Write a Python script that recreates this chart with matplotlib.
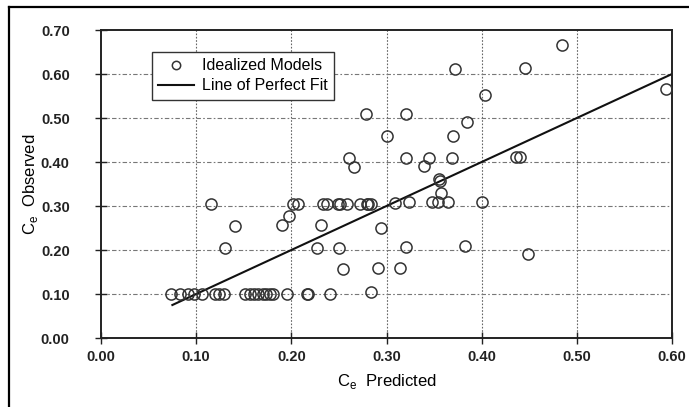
import matplotlib
matplotlib.use("Agg")
import matplotlib.pyplot as plt
from matplotlib.lines import Line2D

plt.rcParams['font.family'] = ['Liberation Sans', 'DejaVu Sans']

# Idealized models: predicted vs observed Ce
pred = [0.074, 0.083, 0.091, 0.098, 0.106, 0.120, 0.124, 0.129, 0.151, 0.157,
        0.161, 0.165, 0.170, 0.173, 0.178, 0.181, 0.195, 0.216, 0.218, 0.241, 0.284,
        0.130, 0.227, 0.250, 0.320, 0.382, 0.449,
        0.254, 0.291, 0.314,
        0.141, 0.190, 0.231, 0.294,
        0.198,
        0.116, 0.202, 0.207, 0.233, 0.237, 0.249, 0.251, 0.258, 0.272, 0.279,
        0.281, 0.284, 0.309, 0.324, 0.348, 0.354, 0.365, 0.400,
        0.355, 0.356, 0.357,
        0.261, 0.266, 0.320, 0.339, 0.345, 0.369, 0.436, 0.440,
        0.278, 0.321, 0.300, 0.370, 0.385, 0.404, 0.372, 0.446, 0.484, 0.594]
obs = [0.10, 0.10, 0.10, 0.10, 0.10, 0.10, 0.10, 0.10, 0.10, 0.10,
       0.10, 0.10, 0.10, 0.10, 0.10, 0.10, 0.10, 0.10, 0.10, 0.10, 0.105,
       0.205, 0.205, 0.205, 0.207, 0.21, 0.192,
       0.156, 0.158, 0.158,
       0.254, 0.257, 0.257, 0.249,
       0.277,
       0.305, 0.305, 0.305, 0.305, 0.305, 0.305, 0.305, 0.305, 0.305, 0.305,
       0.305, 0.305, 0.307, 0.308, 0.308, 0.308, 0.308, 0.308,
       0.362, 0.356, 0.330,
       0.410, 0.388, 0.410, 0.391, 0.410, 0.410, 0.412, 0.412,
       0.510, 0.510, 0.458, 0.460, 0.490, 0.553, 0.612, 0.613, 0.666, 0.566]

fit_x = [0.075, 0.60]
fit_y = [0.075, 0.60]

xticks = [0.0, 0.1, 0.2, 0.3, 0.4, 0.5, 0.6]
yticks = [0.0, 0.1, 0.2, 0.3, 0.4, 0.5, 0.6, 0.7]

fig = plt.figure(figsize=(6.89, 4.07), dpi=100)
ax = fig.add_axes([101/689, 1-338/407, (672-101)/689, (338-30)/407])

# outer frame (left and top edges)
fig.add_artist(Line2D([9/689, 9/689], [0, 1-7/407], transform=fig.transFigure,
                      color='black', lw=1.6))
fig.add_artist(Line2D([9/689, 1], [1-7/407, 1-7/407], transform=fig.transFigure,
                      color='black', lw=1.6))

ax.set_xlim(0, 0.6)
ax.set_ylim(0, 0.7)
ax.set_xticks(xticks)
ax.set_yticks(yticks)
ax.set_xticklabels([f"{v:.2f}" for v in xticks], fontweight='bold', fontsize=10.5)
ax.set_yticklabels([f"{v:.2f}" for v in yticks], fontweight='bold', fontsize=10.5)
ax.tick_params(axis='both', direction='inout', length=9, width=1, colors='#222222')
ax.tick_params(axis='x', pad=4)
ax.tick_params(axis='y', pad=18)

for v in xticks[1:-1]:
    ax.axvline(v, color='#666666', lw=0.8, ls=(0, (1.5, 1.5)), zorder=0)
for v in yticks[1:-1]:
    ax.axhline(v, color='#777777', lw=0.8, ls=(0, (4, 2, 1.5, 2)), zorder=0)

for s in ax.spines.values():
    s.set_linewidth(1.4)
    s.set_color('#222222')

ax.plot(pred, obs, ls='none', marker='o', ms=8, mfc='none', mec='#333333',
        mew=1.1, label='Idealized Models', zorder=3)
ax.plot(fit_x, fit_y, color='#111111', lw=1.5, label='Line of Perfect Fit', zorder=2)

leg = ax.legend(loc='upper left', bbox_to_anchor=(51/571, 1-22/308), borderaxespad=0,
                fancybox=False, framealpha=1, edgecolor='#333333', fontsize=11.5,
                borderpad=0.4, handlelength=2.2, handletextpad=0.5, labelspacing=0.3)
leg.get_frame().set_linewidth(1.0)
leg.legend_handles[0].set_markersize(6)

ax.set_xlabel('C$_\\mathregular{e}$  Predicted', fontsize=12, labelpad=6)
ax.set_ylabel('C$_\\mathregular{e}$  Observed', fontsize=12)
ax.yaxis.set_label_coords(-61/571, 0.5)

fig.savefig('out.png', dpi=100)
